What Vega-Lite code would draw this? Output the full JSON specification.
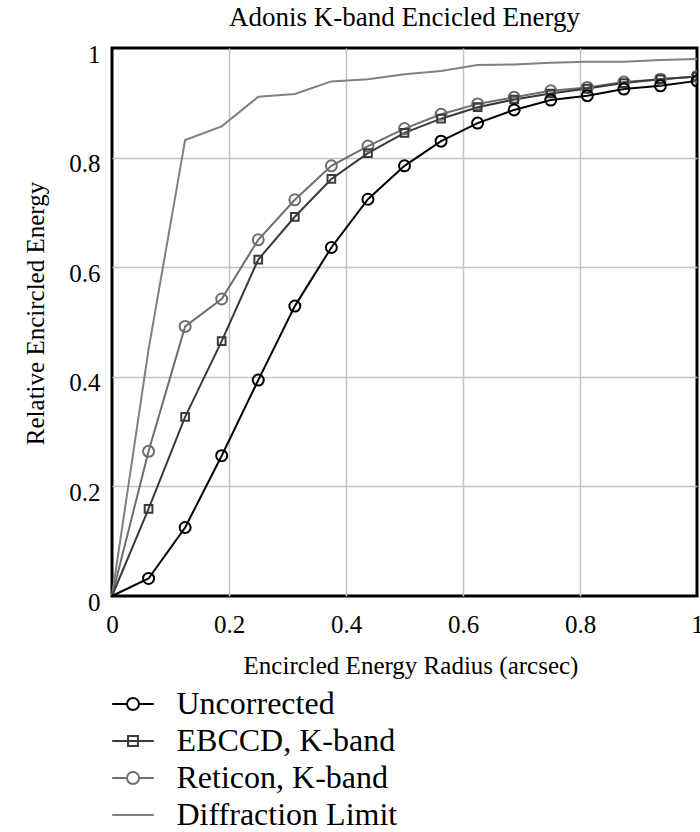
{
  "$schema": "https://vega.github.io/schema/vega-lite/v6.json",
  "width": 585,
  "height": 548,
  "autosize": {"type": "none"},
  "padding": {"left": 112, "top": 48, "right": 3, "bottom": 236},
  "background": "#ffffff",
  "config": {
    "font": "Liberation Serif",
    "view": {"stroke": "#000000", "strokeWidth": 3},
    "axis": {
      "labelFont": "Liberation Serif",
      "titleFont": "Liberation Serif",
      "labelFontSize": 25,
      "titleFontSize": 25,
      "labelColor": "#000000",
      "titleColor": "#000000",
      "titleFontWeight": "normal",
      "domain": false,
      "ticks": false,
      "tickSize": 0,
      "gridColor": {"condition": {"test": "datum.value === 0 || datum.value === 1", "value": "transparent"}, "value": "#c4c4c4"},
      "gridWidth": 1.5,
      "gridOpacity": 1
    }
  },
  "title": {
    "text": "Adonis K-band Encicled Energy",
    "font": "Liberation Serif",
    "fontSize": 27,
    "fontWeight": "normal",
    "color": "#000000",
    "anchor": "middle",
    "baseline": "alphabetic",
    "offset": 20,
    "dy": 31
  },
  "data": {
    "values": [
      {"r": 0, "e": 0, "s": "Diffraction Limit"},
      {"r": 0.0625, "e": 0.45, "s": "Diffraction Limit"},
      {"r": 0.125, "e": 0.832, "s": "Diffraction Limit"},
      {"r": 0.1875, "e": 0.857, "s": "Diffraction Limit"},
      {"r": 0.25, "e": 0.911, "s": "Diffraction Limit"},
      {"r": 0.3125, "e": 0.916, "s": "Diffraction Limit"},
      {"r": 0.375, "e": 0.939, "s": "Diffraction Limit"},
      {"r": 0.4375, "e": 0.943, "s": "Diffraction Limit"},
      {"r": 0.5, "e": 0.952, "s": "Diffraction Limit"},
      {"r": 0.5625, "e": 0.958, "s": "Diffraction Limit"},
      {"r": 0.625, "e": 0.969, "s": "Diffraction Limit"},
      {"r": 0.6875, "e": 0.97, "s": "Diffraction Limit"},
      {"r": 0.75, "e": 0.973, "s": "Diffraction Limit"},
      {"r": 0.8125, "e": 0.975, "s": "Diffraction Limit"},
      {"r": 0.875, "e": 0.975, "s": "Diffraction Limit"},
      {"r": 0.9375, "e": 0.978, "s": "Diffraction Limit"},
      {"r": 1, "e": 0.98, "s": "Diffraction Limit"},
      {"r": 0, "e": 0, "s": "Reticon, K-band"},
      {"r": 0.0625, "e": 0.264, "s": "Reticon, K-band"},
      {"r": 0.125, "e": 0.492, "s": "Reticon, K-band"},
      {"r": 0.1875, "e": 0.542, "s": "Reticon, K-band"},
      {"r": 0.25, "e": 0.65, "s": "Reticon, K-band"},
      {"r": 0.3125, "e": 0.723, "s": "Reticon, K-band"},
      {"r": 0.375, "e": 0.785, "s": "Reticon, K-band"},
      {"r": 0.4375, "e": 0.821, "s": "Reticon, K-band"},
      {"r": 0.5, "e": 0.853, "s": "Reticon, K-band"},
      {"r": 0.5625, "e": 0.879, "s": "Reticon, K-band"},
      {"r": 0.625, "e": 0.898, "s": "Reticon, K-band"},
      {"r": 0.6875, "e": 0.91, "s": "Reticon, K-band"},
      {"r": 0.75, "e": 0.922, "s": "Reticon, K-band"},
      {"r": 0.8125, "e": 0.928, "s": "Reticon, K-band"},
      {"r": 0.875, "e": 0.938, "s": "Reticon, K-band"},
      {"r": 0.9375, "e": 0.943, "s": "Reticon, K-band"},
      {"r": 1, "e": 0.948, "s": "Reticon, K-band"},
      {"r": 0, "e": 0, "s": "EBCCD, K-band"},
      {"r": 0.0625, "e": 0.159, "s": "EBCCD, K-band"},
      {"r": 0.125, "e": 0.327, "s": "EBCCD, K-band"},
      {"r": 0.1875, "e": 0.465, "s": "EBCCD, K-band"},
      {"r": 0.25, "e": 0.614, "s": "EBCCD, K-band"},
      {"r": 0.3125, "e": 0.692, "s": "EBCCD, K-band"},
      {"r": 0.375, "e": 0.761, "s": "EBCCD, K-band"},
      {"r": 0.4375, "e": 0.808, "s": "EBCCD, K-band"},
      {"r": 0.5, "e": 0.845, "s": "EBCCD, K-band"},
      {"r": 0.5625, "e": 0.871, "s": "EBCCD, K-band"},
      {"r": 0.625, "e": 0.892, "s": "EBCCD, K-band"},
      {"r": 0.6875, "e": 0.906, "s": "EBCCD, K-band"},
      {"r": 0.75, "e": 0.917, "s": "EBCCD, K-band"},
      {"r": 0.8125, "e": 0.926, "s": "EBCCD, K-band"},
      {"r": 0.875, "e": 0.936, "s": "EBCCD, K-band"},
      {"r": 0.9375, "e": 0.943, "s": "EBCCD, K-band"},
      {"r": 1, "e": 0.948, "s": "EBCCD, K-band"},
      {"r": 0, "e": 0, "s": "Uncorrected"},
      {"r": 0.0625, "e": 0.032, "s": "Uncorrected"},
      {"r": 0.125, "e": 0.125, "s": "Uncorrected"},
      {"r": 0.1875, "e": 0.256, "s": "Uncorrected"},
      {"r": 0.25, "e": 0.394, "s": "Uncorrected"},
      {"r": 0.3125, "e": 0.529, "s": "Uncorrected"},
      {"r": 0.375, "e": 0.636, "s": "Uncorrected"},
      {"r": 0.4375, "e": 0.724, "s": "Uncorrected"},
      {"r": 0.5, "e": 0.785, "s": "Uncorrected"},
      {"r": 0.5625, "e": 0.83, "s": "Uncorrected"},
      {"r": 0.625, "e": 0.863, "s": "Uncorrected"},
      {"r": 0.6875, "e": 0.887, "s": "Uncorrected"},
      {"r": 0.75, "e": 0.905, "s": "Uncorrected"},
      {"r": 0.8125, "e": 0.913, "s": "Uncorrected"},
      {"r": 0.875, "e": 0.925, "s": "Uncorrected"},
      {"r": 0.9375, "e": 0.931, "s": "Uncorrected"},
      {"r": 1, "e": 0.94, "s": "Uncorrected"}
    ]
  },
  "encoding": {
    "x": {
      "field": "r",
      "type": "quantitative",
      "scale": {"domain": [0, 1], "nice": false, "zero": false},
      "axis": {
        "values": [0, 0.2, 0.4, 0.6, 0.8, 1],
        "format": "~g",
        "title": "Encircled Energy Radius (arcsec)",
        "labelPadding": 16,
        "labelFlush": false,
        "labelOverlap": false,
        "titleBaseline": "alphabetic",
        "titleX": 298.5,
        "titleY": 77,
        "titleAnchor": "middle"
      }
    },
    "y": {
      "field": "e",
      "type": "quantitative",
      "scale": {"domain": [0, 1], "nice": false, "zero": false},
      "axis": {
        "values": [0, 0.2, 0.4, 0.6, 0.8, 1],
        "format": "~g",
        "title": "Relative Encircled Energy",
        "labelPadding": 12,
        "labelOffset": 6,
        "labelFlush": false,
        "labelOverlap": false,
        "titleAngle": 270,
        "titleBaseline": "alphabetic",
        "titleX": -69,
        "titleY": 265,
        "titleAnchor": "middle"
      }
    }
  },
  "layer": [
    {
      "mark": {"type": "line", "strokeWidth": 2},
      "encoding": {
        "color": {
          "field": "s",
          "type": "nominal",
          "scale": {
            "domain": ["Uncorrected", "EBCCD, K-band", "Reticon, K-band", "Diffraction Limit"],
            "range": ["#000000", "#3a3a3a", "#6e6e6e", "#808080"]
          },
          "legend": {
            "orient": "none",
            "legendX": 5,
            "legendY": 640,
            "title": null,
            "padding": 0,
            "labelFont": "Liberation Serif",
            "labelFontSize": 32,
            "labelColor": "#000000",
            "labelOffset": 27.5,
            "labelLimit": 500,
            "rowPadding": 5,
            "symbolSize": 676,
            "symbolStrokeWidth": 2,
            "symbolFillColor": "transparent",
            "encode": {
              "symbols": {
                "update": {
                  "shape": {
                    "signal": "datum.value === 'EBCCD, K-band' ? 'M-1.6,0L1.6,0M-0.38,-0.38L0.38,-0.38L0.38,0.38L-0.38,0.38Z' : datum.value === 'Diffraction Limit' ? 'M-1.6,0L1.6,0' : 'M-1.6,0L-0.46,0M0.46,0L1.6,0M0.46,0A0.46,0.46,0,1,1,-0.46,0A0.46,0.46,0,1,1,0.46,0Z'"
                  },
                  "fill": {"value": "transparent"},
                  "strokeWidth": {"value": 2}
                }
              }
            }
          }
        }
      }
    },
    {
      "transform": [
        {"filter": "datum.s !== 'Diffraction Limit' && datum.r > 0"}
      ],
      "mark": {"type": "point", "filled": false, "strokeWidth": 2, "size": 121, "opacity": 1, "clip": true},
      "encoding": {
        "color": {"field": "s", "type": "nominal"},
        "shape": {
          "field": "s",
          "type": "nominal",
          "scale": {
            "domain": ["Uncorrected", "EBCCD, K-band", "Reticon, K-band"],
            "range": ["circle", "M-0.7,-0.7L0.7,-0.7L0.7,0.7L-0.7,0.7Z", "circle"]
          },
          "legend": null
        }
      }
    }
  ]
}
